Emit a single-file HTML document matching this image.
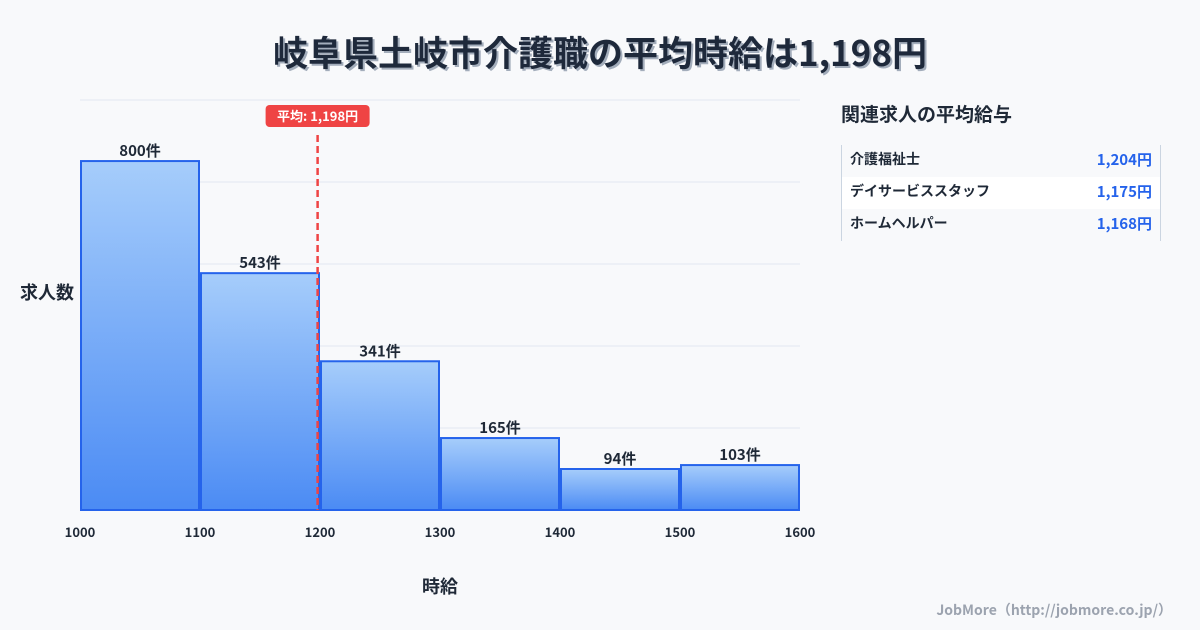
<!DOCTYPE html>
<html><head><meta charset="utf-8"><style>
body{margin:0;width:1200px;height:630px;background:#f8f9fb;font-family:"Noto Sans CJK JP","Liberation Sans",sans-serif;color:#1f2937;position:relative;overflow:hidden}
.t{position:absolute;white-space:nowrap}
#title{left:0;width:1200px;top:26px;text-align:center;font-size:35px;font-weight:bold;color:#1e293b;text-shadow:2px 2px 0 #a3adbb}
#side-title{left:841px;top:100px;font-size:19px;font-weight:bold}
.row{position:absolute;left:841px;width:318px;height:32px;border-left:1px solid #cbd5e1;border-right:1px solid #cbd5e1;font-size:14px;font-weight:bold}
.row span{position:absolute;top:4px}
.row .v{right:8px;color:#2563eb;font-size:15px;top:4px}
</style></head><body>
<div class="t" id="title">岐阜県土岐市介護職の平均時給は1,198円</div>
<svg id="chart" width="820" height="630" style="position:absolute;left:0;top:0;font-family:'Noto Sans CJK JP','Liberation Sans',sans-serif"></svg>
<div class="t" id="side-title">関連求人の平均給与</div>
<div class="row" style="top:145px"><span style="left:8px">介護福祉士</span><span class="v">1,204円</span></div>
<div class="row" style="top:177px;background:#fff"><span style="left:8px">デイサービススタッフ</span><span class="v">1,175円</span></div>
<div class="row" style="top:209px"><span style="left:8px">ホームヘルパー</span><span class="v">1,168円</span></div>
<div class="t" style="right:28px;top:600px;font-size:14px;font-weight:bold;color:#9ca3af">JobMore（http://jobmore.co.jp/）</div>
<script>
const binStarts=[1000,1100,1200,1300,1400,1500];
const counts=[800,543,341,165,94,103];
const xTicks=[1000,1100,1200,1300,1400,1500,1600];
const avgValue=1198;
const binWidth=100;
const NS="http://www.w3.org/2000/svg";
const svg=document.getElementById('chart');
const x0=80,x1=800,y0=510,y1=100,xMin=1000,xMax=1600,yMax=940;
const X=v=>x0+(v-xMin)/(xMax-xMin)*(x1-x0);
const Y=v=>y0-v/yMax*(y0-y1);
function el(tag,attrs){const e=document.createElementNS(NS,tag);for(const k in attrs)e.setAttribute(k,attrs[k]);svg.appendChild(e);return e;}
const defs=el('defs',{});
defs.innerHTML='<linearGradient id="g" x1="0" y1="0" x2="0" y2="1"><stop offset="0" stop-color="#a6cdfb"/><stop offset="1" stop-color="#4b8bf4"/></linearGradient>';
for(let i=0;i<=5;i++){const yy=y1+i*(y0-y1)/5;
const g=el('line',{x1:x0,x2:x1,y1:yy,y2:yy,stroke:'#e2e8f0','stroke-width':1});

}
binStarts.forEach((b,i)=>{
const xa=X(b)+1,xb=X(b+binWidth)-1,yt=Y(counts[i]);
const r=el('rect',{x:xa,y:yt,width:xb-xa,height:y0-yt,fill:'url(#g)',stroke:'#2563eb','stroke-width':2});


const t=el('text',{x:(xa+xb)/2,y:yt-5,'text-anchor':'middle','font-size':15,'font-weight':'bold',fill:'#1f2937'});
t.textContent=counts[i]+'件';


});
xTicks.forEach(v=>{const t=el('text',{x:X(v),y:537,'text-anchor':'middle','font-size':13,'font-weight':'bold',fill:'#1f2937'});
t.textContent=v;

});
const ax=X(avgValue);
const l=el('line',{x1:ax,x2:ax,y1:135,y2:y0,stroke:'#ef4444','stroke-width':2.5,'stroke-dasharray':'7,4'});


const lb=el('rect',{x:ax-52,y:105,width:104,height:22,rx:4,fill:'#ef4444'});


const lt=el('text',{x:ax,y:121,'text-anchor':'middle','font-size':13,'font-weight':'bold',fill:'#fff'});
lt.textContent='平均: 1,198円';


const yt=el('text',{x:20,y:299,'font-size':18,'font-weight':'bold',fill:'#1f2937'});
yt.textContent='求人数';


const xt=el('text',{x:440,y:593,'text-anchor':'middle','font-size':18,'font-weight':'bold',fill:'#1f2937'});
xt.textContent='時給';


</script>
</body></html>
